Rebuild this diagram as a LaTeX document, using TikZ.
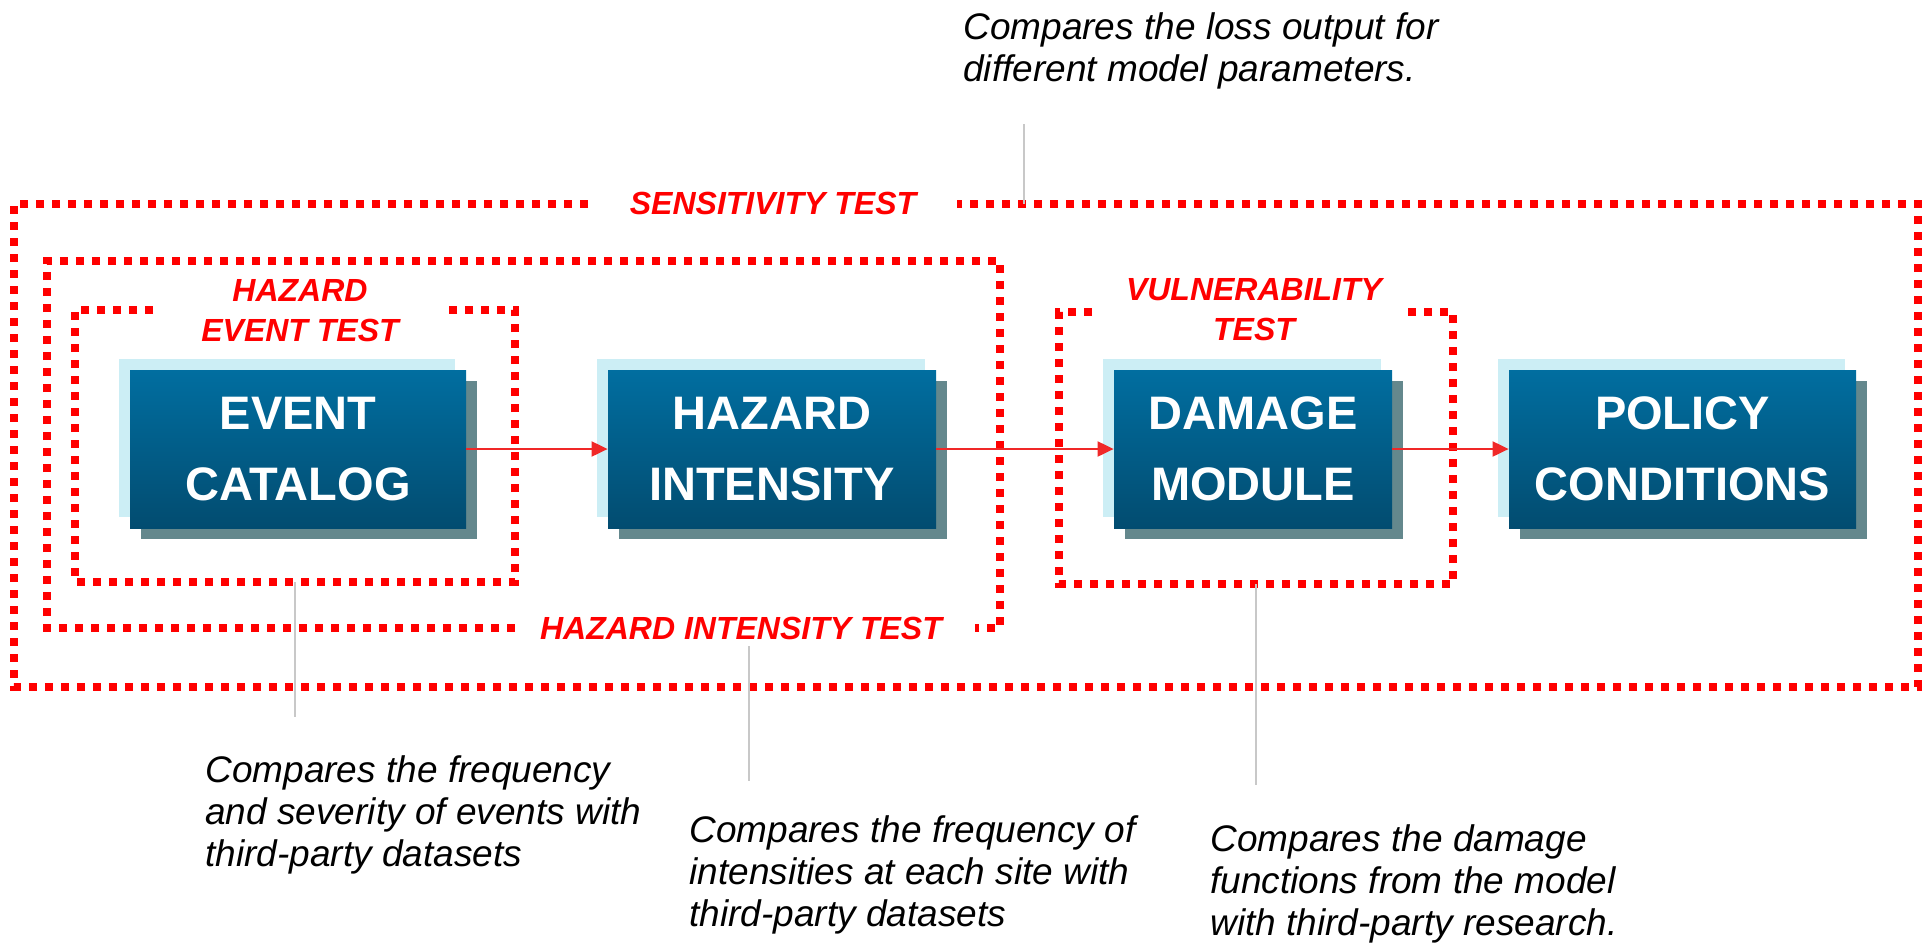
\documentclass[tikz,border=0pt]{standalone}
\usepackage{fontspec}
\setmainfont{Liberation Sans}
\usepackage{xcolor}
\usepackage{tikz}
\definecolor{boxtop}{RGB}{1,110,160}
\definecolor{boxbot}{RGB}{2,76,112}
\definecolor{backblue}{RGB}{204,238,245}
\definecolor{shadowgray}{RGB}{100,136,141}
\definecolor{testred}{RGB}{255,0,0}
\definecolor{arrowred}{RGB}{240,40,40}
\definecolor{leadgray}{RGB}{200,200,200}
\usetikzlibrary{shadows,arrows.meta}

\begin{document}
\begin{tikzpicture}[x=0.5pt, y=-0.5pt,
    modbox/.style={inner sep=0pt, minimum height=79pt, top color=boxtop, bottom color=boxbot,
        text=white, align=center, font=\fontsize{23.5}{35.5}\selectfont\bfseries,
        general shadow={fill=shadowgray, shadow xshift=5.5pt, shadow yshift=-5.5pt},
        general shadow={fill=backblue, shadow xshift=-5.5pt, shadow yshift=5.5pt}},
    testline/.style={draw=testred, line width=4pt, dash pattern=on 4pt off 4pt},
    testlabel/.style={text=testred, align=center, inner sep=0pt, font=\fontsize{16}{20}\selectfont\bfseries\itshape},
    note/.style={align=left, inner sep=0pt, anchor=north west, font=\fontsize{18.5}{21}\selectfont\itshape},
    flow/.style={draw=arrowred, line width=1pt, -{Triangle[length=8pt, width=7.5pt]}},
    lead/.style={draw=leadgray, line width=0.75pt}]
    \useasboundingbox (0,0) rectangle (1922,943);

    % Test frames
    \draw[testline] (588,204) -- (14,204) -- (14,687) -- (1918,687) -- (1918,204) -- (957,204);
    \draw[testline] (515,628) -- (47,628) -- (47,261) -- (1000,261) -- (1000,628) -- (975,628);
    \draw[testline] (153,310) -- (75,310) -- (75,582) -- (515,582) -- (515,310) -- (443,310);
    \draw[testline] (1092,312) -- (1059,312) -- (1059,584) -- (1453,584) -- (1453,312) -- (1408,312);

    \node[testlabel] (senslbl) at (773,203) {SENSITIVITY TEST};
    \node[testlabel] (intenslbl) at (741,628) {HAZARD INTENSITY TEST};
    \node[testlabel] (eventlbl) at (300,311) {HAZARD\\EVENT TEST};
    \node[testlabel] (vulnlbl) at (1254,310) {VULNERABILITY\\TEST};

    % Model modules
    \foreach \nm/\x/\w/\txt in {event/298/168/{EVENT\\CATALOG}, hazard/772/164/{HAZARD\\INTENSITY},
                                damage/1253/139/{DAMAGE\\MODULE}, policy/1682.5/173.5/{POLICY\\CONDITIONS}} {
        \node[modbox, minimum width=\w pt] (\nm) at (\x,449) {\txt};
    }

    \draw[flow] (event) -- (hazard);
    \draw[flow] (hazard) -- (damage);
    \draw[flow] (damage) -- (policy);

    % Notes
    \draw[lead] (1024,124) -- (1024,204);
    \draw[lead] (295,582) -- (295,717);
    \draw[lead] (749,646) -- (749,781);
    \draw[lead] (1256,584) -- (1256,785);

    \node[note] (losstxt) at (963,12) {Compares the loss output for\\different model parameters.};
    \node[note] (eventtxt) at (205,755) {Compares the frequency\\and severity of events with\\third-party datasets};
    \node[note] (intenstxt) at (689,815) {Compares the frequency of\\intensities at each site with\\third-party datasets};
    \node[note] (damagetxt) at (1210,824) {Compares the damage\\functions from the model\\with third-party research.};
\end{tikzpicture}
\end{document}
